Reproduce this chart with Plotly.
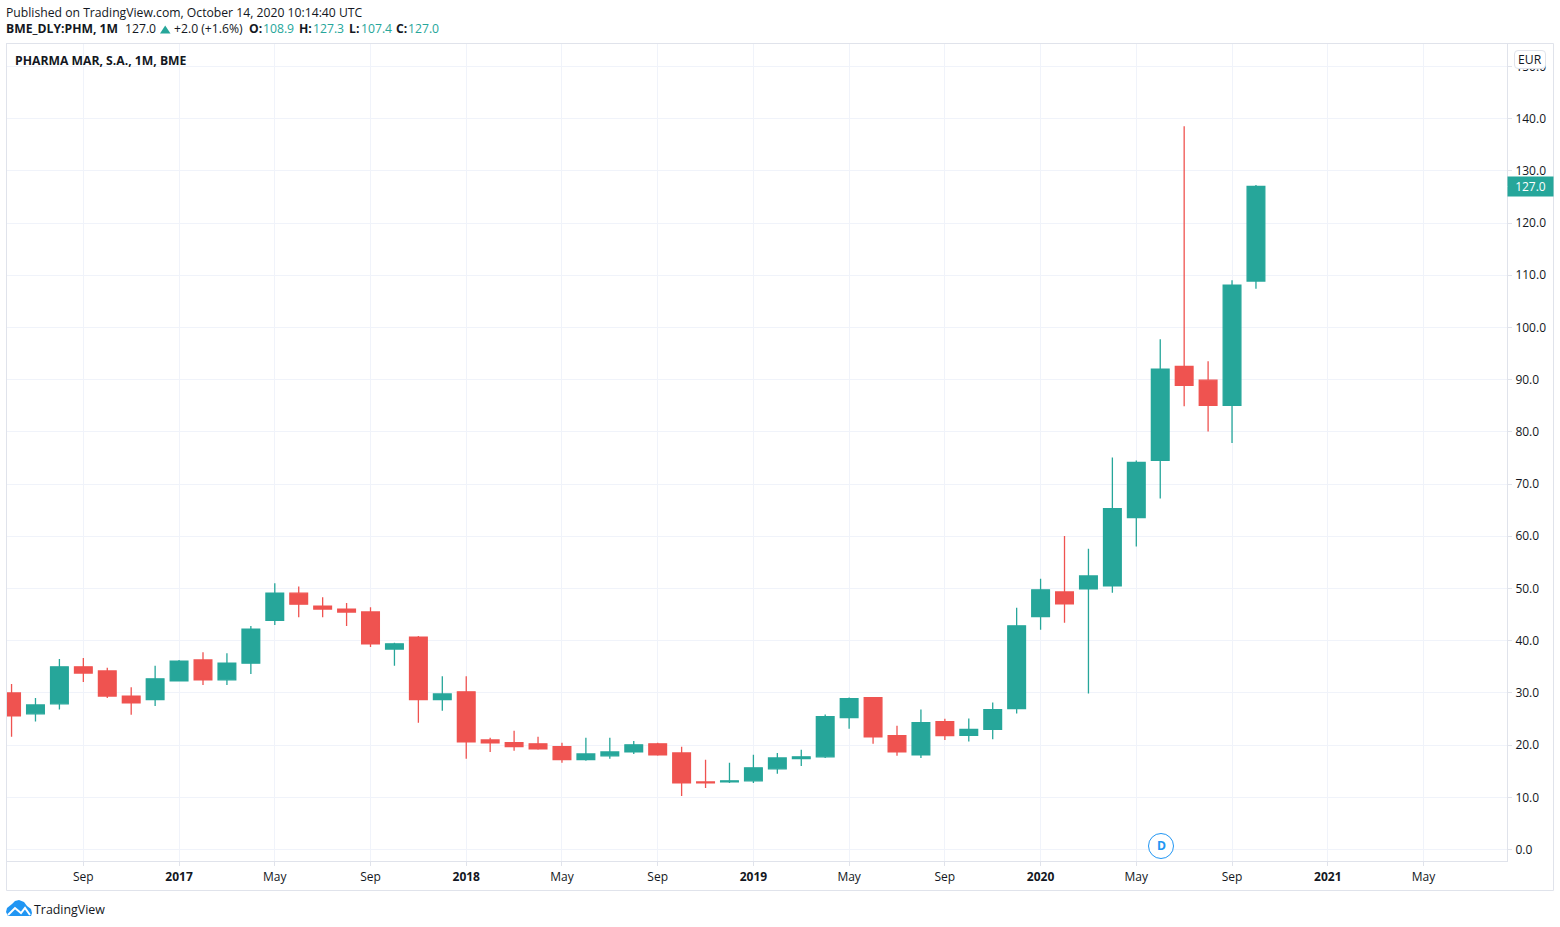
import pandas as pd
import plotly.graph_objects as go

W, H = 1560, 927
PLOT_L, PLOT_R, PLOT_T, PLOT_B = 7, 1507, 44, 861

UP = "#26a69a"
DOWN = "#ef5350"
GRID = "#f0f3fa"
FRAME = "#e0e3eb"
TEXT = "#131722"
BLUE = "#2196f3"
FONT = "Open Sans"

# monthly candles, Jun 2016 .. Oct 2020
opens = [30.0, 26.0, 27.9, 35.0, 34.2, 29.4, 28.7, 32.3, 36.3, 32.5, 35.7, 43.9, 49.1,
         46.6, 46.05, 45.5, 38.4, 40.7, 28.7, 30.2, 21.0, 20.45, 20.25, 19.7, 17.2, 17.95,
         18.7, 20.25, 18.5, 12.95, 12.95, 13.15, 15.45, 17.4, 17.75, 25.25, 29.1, 21.8,
         18.15, 24.5, 21.85, 23.0, 27.0, 44.6, 49.35, 49.95, 50.5, 63.6, 74.55, 92.55,
         89.9, 85.1, 108.9]
highs = [31.7, 29.0, 36.5, 36.7, 34.8, 31.1, 35.2, 36.3, 37.8, 37.6, 42.8, 51.0, 50.4,
         48.3, 47.2, 46.4, 39.6, 40.9, 33.2, 33.2, 21.4, 22.75, 21.6, 20.45, 21.4, 21.4,
         20.8, 20.45, 19.7, 17.2, 16.6, 18.15, 18.5, 19.1, 25.85, 29.1, 29.1, 23.7,
         26.8, 25.05, 25.1, 28.15, 46.3, 51.85, 60.05, 57.6, 75.1, 74.5, 97.75, 138.55,
         93.55, 109.05, 127.3]
lows = [21.6, 24.5, 26.8, 32.1, 29.0, 25.8, 27.5, 32.3, 31.5, 31.5, 33.6, 43.0, 44.5,
        44.5, 42.8, 38.8, 35.2, 24.3, 26.6, 17.4, 18.7, 18.9, 19.1, 16.6, 17.0, 17.4,
        18.3, 17.95, 10.25, 11.8, 12.75, 12.75, 14.5, 16.0, 17.55, 23.15, 20.25, 17.95,
        17.55, 21.0, 20.7, 21.1, 26.05, 42.1, 43.45, 29.9, 49.2, 58.05, 67.25, 84.9,
        80.05, 77.85, 107.4]
closes = [25.6, 27.7, 35.0, 33.8, 29.4, 28.1, 32.7, 36.1, 32.5, 35.7, 42.2, 49.1, 47.0,
          46.05, 45.5, 39.4, 39.4, 28.7, 29.8, 20.6, 20.45, 19.7, 19.3, 17.2, 18.3, 18.7,
          20.05, 18.15, 12.75, 12.75, 13.15, 15.65, 17.55, 17.75, 25.45, 28.9, 21.6, 18.7,
          24.3, 21.8, 23.0, 26.8, 42.85, 49.75, 47.05, 52.4, 65.3, 74.15, 92.0, 88.9,
          85.1, 108.1, 127.0]

# the time axis is evenly spaced by month and runs past the last candle
months = pd.date_range("2016-06-01", periods=70, freq="MS").strftime("%Y-%m").tolist()
x_tick_vals = ["2016-09", "2017-01", "2017-05", "2017-09", "2018-01", "2018-05", "2018-09",
               "2019-01", "2019-05", "2019-09", "2020-01", "2020-05", "2020-09", "2021-01",
               "2021-05"]
x_tick_text = ["Sep", "<b>2017</b>", "May", "Sep", "<b>2018</b>", "May", "Sep",
               "<b>2019</b>", "May", "Sep", "<b>2020</b>", "May", "Sep", "<b>2021</b>", "May"]
y_tick_vals = [0, 10, 20, 30, 40, 50, 60, 70, 80, 90, 100, 110, 120, 130, 140, 150]


# paper coordinates run over the plot area, so page pixels are converted from it
def px(x):
    return (x - PLOT_L) / (PLOT_R - PLOT_L)


def py(y):
    return (PLOT_B - y) / (PLOT_B - PLOT_T)


def label(x, y, text, color=TEXT, size=12.2, anchor="left"):
    return dict(x=px(x), y=py(y), xref="paper", yref="paper", text=text, showarrow=False,
                xanchor=anchor, yanchor="middle", xshift=-1 if anchor == "left" else 0, borderpad=0,
                font=dict(family=FONT, size=size, color=color))


fig = go.Figure(go.Candlestick(
    x=months[:len(opens)], open=opens, high=highs, low=lows, close=closes,
    increasing=dict(line=dict(color=UP, width=1.3), fillcolor=UP),
    decreasing=dict(line=dict(color=DOWN, width=1.3), fillcolor=DOWN),
    whiskerwidth=0,
))

annotations = [
    label(6, 12, "Published on TradingView.com, October 14, 2020 10:14:40 UTC"),
    label(6, 29, "<b>BME_DLY:PHM, 1M</b>"),
    label(125, 29, "127.0"),
    label(174, 29, "+2.0 (+1.6%)"),
    label(249, 29, "<b>O:</b>"),
    label(263, 29, "108.9", UP),
    label(299, 29, "<b>H:</b>"),
    label(313, 29, "127.3", UP),
    label(349, 29, "<b>L:</b>"),
    label(361, 29, "107.4", UP),
    label(396, 29, "<b>C:</b>"),
    label(408, 29, "127.0", UP),
    label(15, 60.5, "<b>PHARMA MAR, S.A., 1M, BME</b>"),
    label(1530, 59, "EUR", anchor="center"),
    label(1161, 845.5, "<b>D</b>", BLUE, anchor="center"),
    label(34, 909, "TradingView", size=12.4),
    # last price tag sits on the price scale
    dict(x=px(1507), xref="paper", xanchor="left", y=closes[-1], yref="y", yanchor="middle",
         text=f"{closes[-1]:.1f}", showarrow=False, bgcolor=UP, width=45, height=19, borderpad=0,
         font=dict(family=FONT, size=12, color="white")),
]

shapes = [
    # outer frame
    dict(type="rect", xref="paper", yref="paper", x0=px(6.5), x1=px(1553.5), y0=py(43.5), y1=py(890.5),
         line=dict(color=FRAME, width=1), layer="below"),
    # up arrow in the header
    dict(type="path", xref="paper", yref="paper", line=dict(width=0), fillcolor=UP,
         path=f"M {px(160)} {py(33.5)} L {px(165.2)} {py(25.5)} L {px(170.5)} {py(33.5)} Z"),
    # currency button
    dict(type="path", xref="paper", yref="paper", line=dict(color=FRAME, width=1), fillcolor="white",
         path=" ".join([
             f"M {px(1518)} {py(50.5)} L {px(1542)} {py(50.5)}",
             f"Q {px(1545.5)} {py(50.5)} {px(1545.5)} {py(54)} L {px(1545.5)} {py(65)}",
             f"Q {px(1545.5)} {py(68.5)} {px(1542)} {py(68.5)} L {px(1518)} {py(68.5)}",
             f"Q {px(1514.5)} {py(68.5)} {px(1514.5)} {py(65)} L {px(1514.5)} {py(54)}",
             f"Q {px(1514.5)} {py(50.5)} {px(1518)} {py(50.5)} Z",
         ])),
    # dividend marker
    dict(type="circle", xref="paper", yref="paper", x0=px(1148.5), x1=px(1173.5), y0=py(833.5), y1=py(858.5),
         line=dict(color=BLUE, width=1), fillcolor="white"),
    # logo
    dict(type="path", xref="paper", yref="paper", line=dict(width=0), fillcolor=BLUE,
         path=" ".join([
             f"M {px(6)} {py(912)} L {px(7)} {py(908)} L {px(12)} {py(904)} L {px(15)} {py(901)}",
             f"L {px(19)} {py(900)} L {px(24)} {py(902)} L {px(27)} {py(906)}",
             f"L {px(31)} {py(909)} L {px(32)} {py(913)} L {px(31)} {py(916)} L {px(8)} {py(916)} Z",
         ])),
    dict(type="path", xref="paper", yref="paper", line=dict(width=2, color="white"), fillcolor="rgba(0,0,0,0)",
         path=" ".join([
             f"M {px(8)} {py(915)} L {px(15)} {py(908)} L {px(21)} {py(913)} L {px(25)} {py(908)} L {px(30)} {py(915)}",
         ])),
    # tick inside the price tag
    dict(type="line", xref="paper", yref="y", x0=px(1507), x1=px(1511), y0=closes[-1], y1=closes[-1],
         line=dict(color="white", width=1)),
]

fig.update_layout(
    width=W,
    height=H,
    autosize=False,
    showlegend=False,
    paper_bgcolor="white",
    plot_bgcolor="white",
    margin=dict(l=PLOT_L, r=W - PLOT_R, t=PLOT_T, b=H - PLOT_B, pad=0),
    boxgap=0.26,
    boxgroupgap=0,
    font=dict(family=FONT, size=12, color=TEXT),
    annotations=annotations,
    shapes=shapes,
    xaxis=dict(
        type="category",
        categoryorder="array",
        categoryarray=months,
        range=[-0.19, 62.49],
        rangeslider=dict(visible=False),
        tickmode="array",
        tickvals=x_tick_vals,
        ticktext=x_tick_text,
        ticks="outside",
        ticklen=4,
        ticklabelstandoff=1,
        tickcolor=FRAME,
        gridcolor=GRID,
        showline=True,
        linecolor=FRAME,
        mirror=True,
        zeroline=False,
    ),
    yaxis=dict(
        side="right",
        range=[-2.2, 154.3],
        tickmode="array",
        tickvals=y_tick_vals,
        tickformat=".1f",
        ticks="outside",
        ticklen=4,
        ticklabelstandoff=1,
        tickcolor=FRAME,
        gridcolor=GRID,
        showline=True,
        linecolor=FRAME,
        mirror=True,
        zeroline=False,
    ),
)

# the page's default body margin would push the chart 8px off
fig.write_html("out.html", config={"displayModeBar": False},
               post_script="document.body.style.margin='0';")
